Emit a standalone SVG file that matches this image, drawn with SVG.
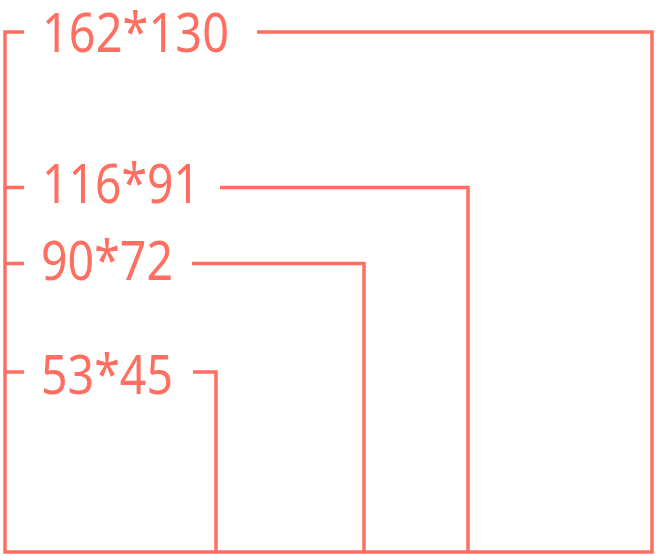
<svg xmlns="http://www.w3.org/2000/svg" width="656" height="556" viewBox="0 0 656 556">
<style>
.ln{fill:none;stroke:#FF6F61;stroke-width:3.5;stroke-linejoin:miter;stroke-linecap:butt}
.lb{fill:#FF6F61;font-family:"Noto Sans","Open Sans","Liberation Sans",sans-serif;font-size:54px}
</style>
<rect width="656" height="556" fill="#ffffff"/>
<g id="size-162x130">
<path class="ln" d="M24,32 H5 V552 H652 V32 H257"/>
<text class="lb" x="42" y="52" textLength="187" lengthAdjust="spacingAndGlyphs">162*130</text>
</g>
<g id="size-116x91">
<path class="ln" d="M5,187.5 H24 M220,187.5 H468 V552"/>
<text class="lb" x="42" y="203" textLength="158" lengthAdjust="spacingAndGlyphs">116*91</text>
</g>
<g id="size-90x72">
<path class="ln" d="M5,263.5 H24 M192,263.5 H364 V552"/>
<text class="lb" x="41" y="280" textLength="132" lengthAdjust="spacingAndGlyphs">90*72</text>
</g>
<g id="size-53x45">
<path class="ln" d="M5,372 H24 M193,372 H216 V552"/>
<text class="lb" x="41" y="394" textLength="132" lengthAdjust="spacingAndGlyphs">53*45</text>
</g>
</svg>
